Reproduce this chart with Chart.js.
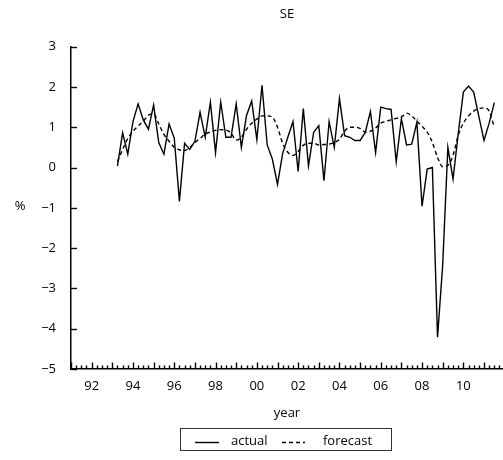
<!DOCTYPE html>
<html>
<head>
<meta charset="utf-8">
<script src="https://cdn.jsdelivr.net/npm/chart.js@4"></script>
<style>
  html, body { margin: 0; padding: 0; background: #fff; overflow: hidden; }
</style>
</head>
<body>
<canvas id="seChart" width="503" height="460"></canvas>
<script>
// quarterly observations, 1993Q2 .. 2011Q3
const firstYear = 1993, firstQuarter = 2, nQuarters = 74;
const quarters = [];
for (let i = 0; i < nQuarters; i++) {
    const q = firstQuarter - 1 + i;
    quarters.push((firstYear + Math.floor(q / 4)) + 'Q' + (q % 4 + 1));
}

const actual = [
    0.04, 0.86, 0.33, 1.14, 1.58, 1.18, 0.95, 1.55, 0.62, 0.33,
    1.08, 0.73, -0.84, 0.60, 0.45, 0.65, 1.37, 0.75, 1.62, 0.37,
    1.62, 0.75, 0.75, 1.58, 0.50, 1.29, 1.65, 0.69, 2.04, 0.56,
    0.21, -0.42, 0.35, 0.75, 1.14, -0.10, 1.46, 0.04, 0.87, 1.04,
    -0.33, 1.14, 0.50, 1.71, 0.79, 0.75, 0.67, 0.67, 0.87, 1.39,
    0.37, 1.50, 1.46, 1.44, 0.14, 1.21, 0.56, 0.58, 1.12, -0.96,
    -0.04, 0.00, -4.21, -2.42, 0.50, -0.29, 0.83, 1.87, 2.02, 1.87,
    1.27, 0.67, 1.10, 1.61
];

const forecast = [
    0.15, 0.45, 0.72, 0.90, 1.03, 1.15, 1.30, 1.33, 1.08, 0.82,
    0.65, 0.50, 0.44, 0.42, 0.50, 0.62, 0.72, 0.83, 0.88, 0.92,
    0.94, 0.93, 0.85, 0.68, 0.75, 0.95, 1.10, 1.20, 1.28, 1.28,
    1.25, 1.00, 0.60, 0.38, 0.30, 0.40, 0.55, 0.60, 0.60, 0.56,
    0.57, 0.58, 0.62, 0.70, 0.90, 1.00, 1.00, 0.97, 0.88, 0.90,
    0.98, 1.10, 1.15, 1.18, 1.22, 1.25, 1.35, 1.28, 1.15, 1.02,
    0.88, 0.62, 0.25, 0.02, 0.05, 0.30, 0.80, 1.10, 1.28, 1.40,
    1.46, 1.48, 1.40, 1.00
];

const yTicks = [3, 2, 1, 0, -1, -2, -3, -4, -5];
const labelYears = [1992, 1994, 1996, 1998, 2000, 2002, 2004, 2006, 2008, 2010];

const fontFamily = '"Open Sans", "DejaVu Sans", sans-serif';

// "1993Q2" -> 1993.25 (quarter start)
function quarterToYear(s) {
    return parseInt(s.slice(0, 4), 10) + (parseInt(s.slice(5), 10) - 1) / 4;
}

function toPoints(values) {
    return values.map((v, i) => ({ x: quarterToYear(quarters[i]), y: v }));
}

// inward tick marks, the % label and the boxed legend
const decorations = {
    id: 'decorations',
    afterDraw(chart) {
        const { ctx, chartArea: a, scales: { x, y } } = chart;
        ctx.save();
        ctx.strokeStyle = '#000';
        ctx.lineWidth = 1.4;
        yTicks.forEach(v => {
            const py = Math.round(y.getPixelForValue(v)) + 0.5;
            ctx.beginPath();
            ctx.moveTo(a.left, py);
            ctx.lineTo(a.left + 6, py);
            ctx.stroke();
        });
        // one tick per quarter, longer ones on whole years
        const nTicks = Math.floor((x.max - x.min) * 4);
        for (let k = 0; k <= nTicks; k++) {
            const px = Math.round(x.getPixelForValue(x.min + k / 4)) + 0.5;
            const len = k % 4 === 0 ? 6.5 : 3.5;
            ctx.beginPath();
            ctx.moveTo(px, a.bottom);
            ctx.lineTo(px, a.bottom - len);
            ctx.stroke();
        }

        ctx.fillStyle = '#000';
        ctx.font = '13px ' + fontFamily;
        ctx.textAlign = 'center';
        ctx.textBaseline = 'middle';
        ctx.fillText('%', 20, y.getPixelForValue(-1) - 2);

        // legend
        ctx.lineWidth = 1;
        ctx.strokeStyle = '#333';
        ctx.strokeRect(180.5, 428.5, 211, 22);
        const items = [
            { ds: chart.data.datasets[0], x0: 195, x1: 219, tx: 231 },
            { ds: chart.data.datasets[1], x0: 282, x1: 305, tx: 323 }
        ];
        items.forEach(it => {
            ctx.beginPath();
            ctx.lineWidth = it.ds.borderWidth;
            ctx.setLineDash(it.ds.borderDash || []);
            ctx.strokeStyle = it.ds.borderColor;
            ctx.moveTo(it.x0, 442.5);
            ctx.lineTo(it.x1, 442.5);
            ctx.stroke();
            ctx.setLineDash([]);
            ctx.textAlign = 'left';
            ctx.fillText(it.ds.label, it.tx, 441);
        });
        ctx.restore();
    }
};

const tickFont = { family: fontFamily, size: 13 };

new Chart(document.getElementById('seChart'), {
    type: 'line',
    data: {
        datasets: [{
            label: 'actual',
            data: toPoints(actual),
            borderColor: '#000',
            borderWidth: 1.4,
            pointRadius: 0,
            tension: 0
        }, {
            label: 'forecast',
            data: toPoints(forecast),
            borderColor: '#000',
            borderWidth: 1.4,
            borderDash: [4, 3],
            pointRadius: 0,
            cubicInterpolationMode: 'monotone'
        }]
    },
    options: {
        responsive: false,
        devicePixelRatio: 1,
        animation: false,
        layout: { padding: { left: 0, right: 0, top: 0, bottom: 38 } },
        plugins: {
            legend: { display: false },
            tooltip: { enabled: false },
            title: {
                display: true,
                text: 'SE',
                fullSize: false,
                color: '#000',
                font: { family: fontFamily, size: 13, weight: 'normal' },
                padding: { top: 6, bottom: 25 }
            }
        },
        scales: {
            x: {
                type: 'linear',
                min: 1991,
                max: 2011.92,
                grid: { display: false, drawTicks: false },
                border: { display: true, color: '#000', width: 1.5 },
                ticks: {
                    stepSize: 1,
                    autoSkip: false,
                    maxRotation: 0,
                    padding: 9,
                    color: '#000',
                    font: tickFont,
                    callback: v => labelYears.includes(v) ? String(v).slice(2) : ''
                },
                title: {
                    display: true,
                    text: 'year',
                    color: '#000',
                    font: tickFont,
                    padding: { top: 4, bottom: 1 }
                },
                afterFit: s => {
                    s.height = 53;
                    // plot runs right to the canvas edge
                    s.paddingLeft = 0;
                    s.paddingRight = 0;
                }
            },
            y: {
                min: -5,
                max: 3,
                grid: { display: false, drawTicks: false },
                border: { display: true, color: '#000', width: 1.5 },
                ticks: {
                    stepSize: 1,
                    padding: 15,
                    color: '#000',
                    font: tickFont,
                    callback: v => v < 0 ? '\u2212' + Math.abs(v) : String(v)
                },
                afterFit: s => { s.width = 71; }
            }
        }
    },
    plugins: [decorations]
});
</script>
</body>
</html>
